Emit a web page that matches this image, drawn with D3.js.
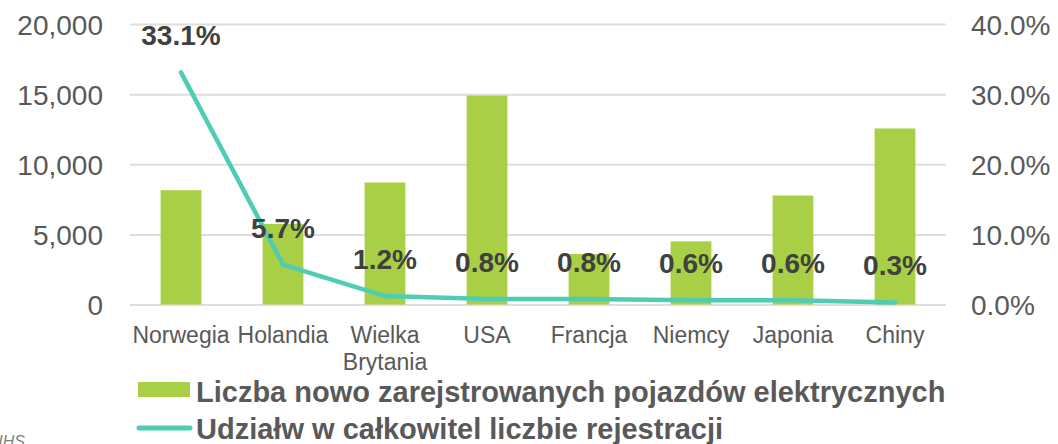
<!DOCTYPE html>
<html>
<head>
<meta charset="utf-8">
<script src="https://cdn.jsdelivr.net/npm/d3@7"></script>
<style>
  body { margin: 0; background: #fff; }
  svg { display: block; font-family: "Liberation Sans", Arial, sans-serif; }
</style>
</head>
<body>
<svg id="chart"></svg>
<script>
"use strict";

// ---- data ----
const countries = ["Norwegia", "Holandia", "Wielka Brytania", "USA", "Francja", "Niemcy", "Japonia", "Chiny"];
const registrations = [8150, 5750, 8700, 14900, 3600, 4500, 7770, 12550];
const shares = [0.331, 0.057, 0.012, 0.008, 0.008, 0.006, 0.006, 0.003];
const leftTicks = [0, 5000, 10000, 15000, 20000];
const rightTicks = [0, 0.1, 0.2, 0.3, 0.4];
const seriesNames = [
  "Liczba nowo zarejstrowanych pojazdów elektrycznych",
  "Udziałw w całkowitel liczbie rejestracji"
];

// ---- setup ----
const W = 1058, H = 444;
const plot = { left: 130, right: 946, top: 24, bottom: 304.5 };
const barColor = "#a8cf45";
const lineColor = "#4ecdb4";

const svg = d3.select("#chart").attr("width", W).attr("height", H);

const x = d3.scaleBand()
  .domain(countries)
  .range([plot.left, plot.right])
  .paddingInner(0.6)
  .paddingOuter(0.3);

const yLeft = d3.scaleLinear().domain([0, 20000]).range([plot.bottom, plot.top]);
const yRight = d3.scaleLinear().domain([0, 0.4]).range([plot.bottom, plot.top]);

// gridlines + left axis
const gLeft = svg.append("g")
  .attr("transform", `translate(${plot.left},0)`)
  .call(d3.axisLeft(yLeft).tickValues(leftTicks)
    .tickSize(-(plot.right - plot.left))
    .tickPadding(27)
    .tickFormat(d3.format(",")));
gLeft.select(".domain").remove();
gLeft.selectAll(".tick line").attr("stroke", "#dedede").attr("stroke-width", 2);
gLeft.selectAll(".tick text")
  .attr("fill", "#595959").style("font-size", "28px").attr("dy", "0.36em");

// right axis
const gRight = svg.append("g")
  .attr("transform", `translate(${plot.right},0)`)
  .call(d3.axisRight(yRight).tickValues(rightTicks)
    .tickSize(0).tickPadding(25)
    .tickFormat(d3.format(".1%")));
gRight.select(".domain").remove();
gRight.selectAll(".tick text")
  .attr("fill", "#595959").style("font-size", "28px").attr("dy", "0.36em");

// bars
svg.append("g").selectAll("rect")
  .data(countries)
  .join("rect")
  .attr("x", d => x(d))
  .attr("width", x.bandwidth())
  .attr("y", (d, i) => yLeft(registrations[i]))
  .attr("height", (d, i) => yLeft(0) - yLeft(registrations[i]))
  .attr("fill", barColor);

// line
const line = d3.line()
  .x((d, i) => x(countries[i]) + x.bandwidth() / 2)
  .y(d => yRight(d));

svg.append("path")
  .datum(shares)
  .attr("d", line)
  .attr("fill", "none")
  .attr("stroke", lineColor)
  .attr("stroke-width", 4.5)
  .attr("stroke-linejoin", "round")
  .attr("stroke-linecap", "round");

// value labels
svg.append("g").selectAll("text")
  .data(shares)
  .join("text")
  .attr("x", (d, i) => x(countries[i]) + x.bandwidth() / 2)
  .attr("y", d => yRight(d) - 27)
  .attr("text-anchor", "middle")
  .attr("fill", "#404040")
  .style("font-size", "28px")
  .style("font-weight", "bold")
  .text(d => d3.format(".1%")(d));

// category labels (wrap long ones)
const catG = svg.append("g");
countries.forEach(c => {
  const t = catG.append("text")
    .attr("x", x(c) + x.bandwidth() / 2)
    .attr("y", 343)
    .attr("text-anchor", "middle")
    .attr("fill", "#595959")
    .style("font-size", "23px");
  const words = c.split(" ");
  if (words.length > 1) {
    words.forEach((w, k) => {
      t.append("tspan")
        .attr("x", x(c) + x.bandwidth() / 2)
        .attr("dy", k === 0 ? 0 : 27)
        .text(w);
    });
  } else {
    t.text(c);
  }
});

// legend
const lg = svg.append("g");
lg.append("rect")
  .attr("x", 138).attr("y", 382)
  .attr("width", 52).attr("height", 15)
  .attr("fill", barColor);
lg.append("text")
  .attr("x", 196).attr("y", 402)
  .attr("fill", "#595959")
  .style("font-size", "29px").style("font-weight", "bold")
  .text(seriesNames[0]);
lg.append("line")
  .attr("x1", 139).attr("x2", 190)
  .attr("y1", 428).attr("y2", 428)
  .attr("stroke", lineColor).attr("stroke-width", 5)
  .attr("stroke-linecap", "round");
lg.append("text")
  .attr("x", 196).attr("y", 438.5)
  .attr("fill", "#595959")
  .style("font-size", "29px").style("font-weight", "bold")
  .text(seriesNames[1]);

// source note (cut off at the left edge, as in the original)
svg.append("text")
  .attr("x", 25).attr("y", 447)
  .attr("text-anchor", "end")
  .attr("fill", "#7f7f7f")
  .style("font-size", "16px").style("font-style", "italic")
  .text("Źródło: IHS");
</script>
</body>
</html>
